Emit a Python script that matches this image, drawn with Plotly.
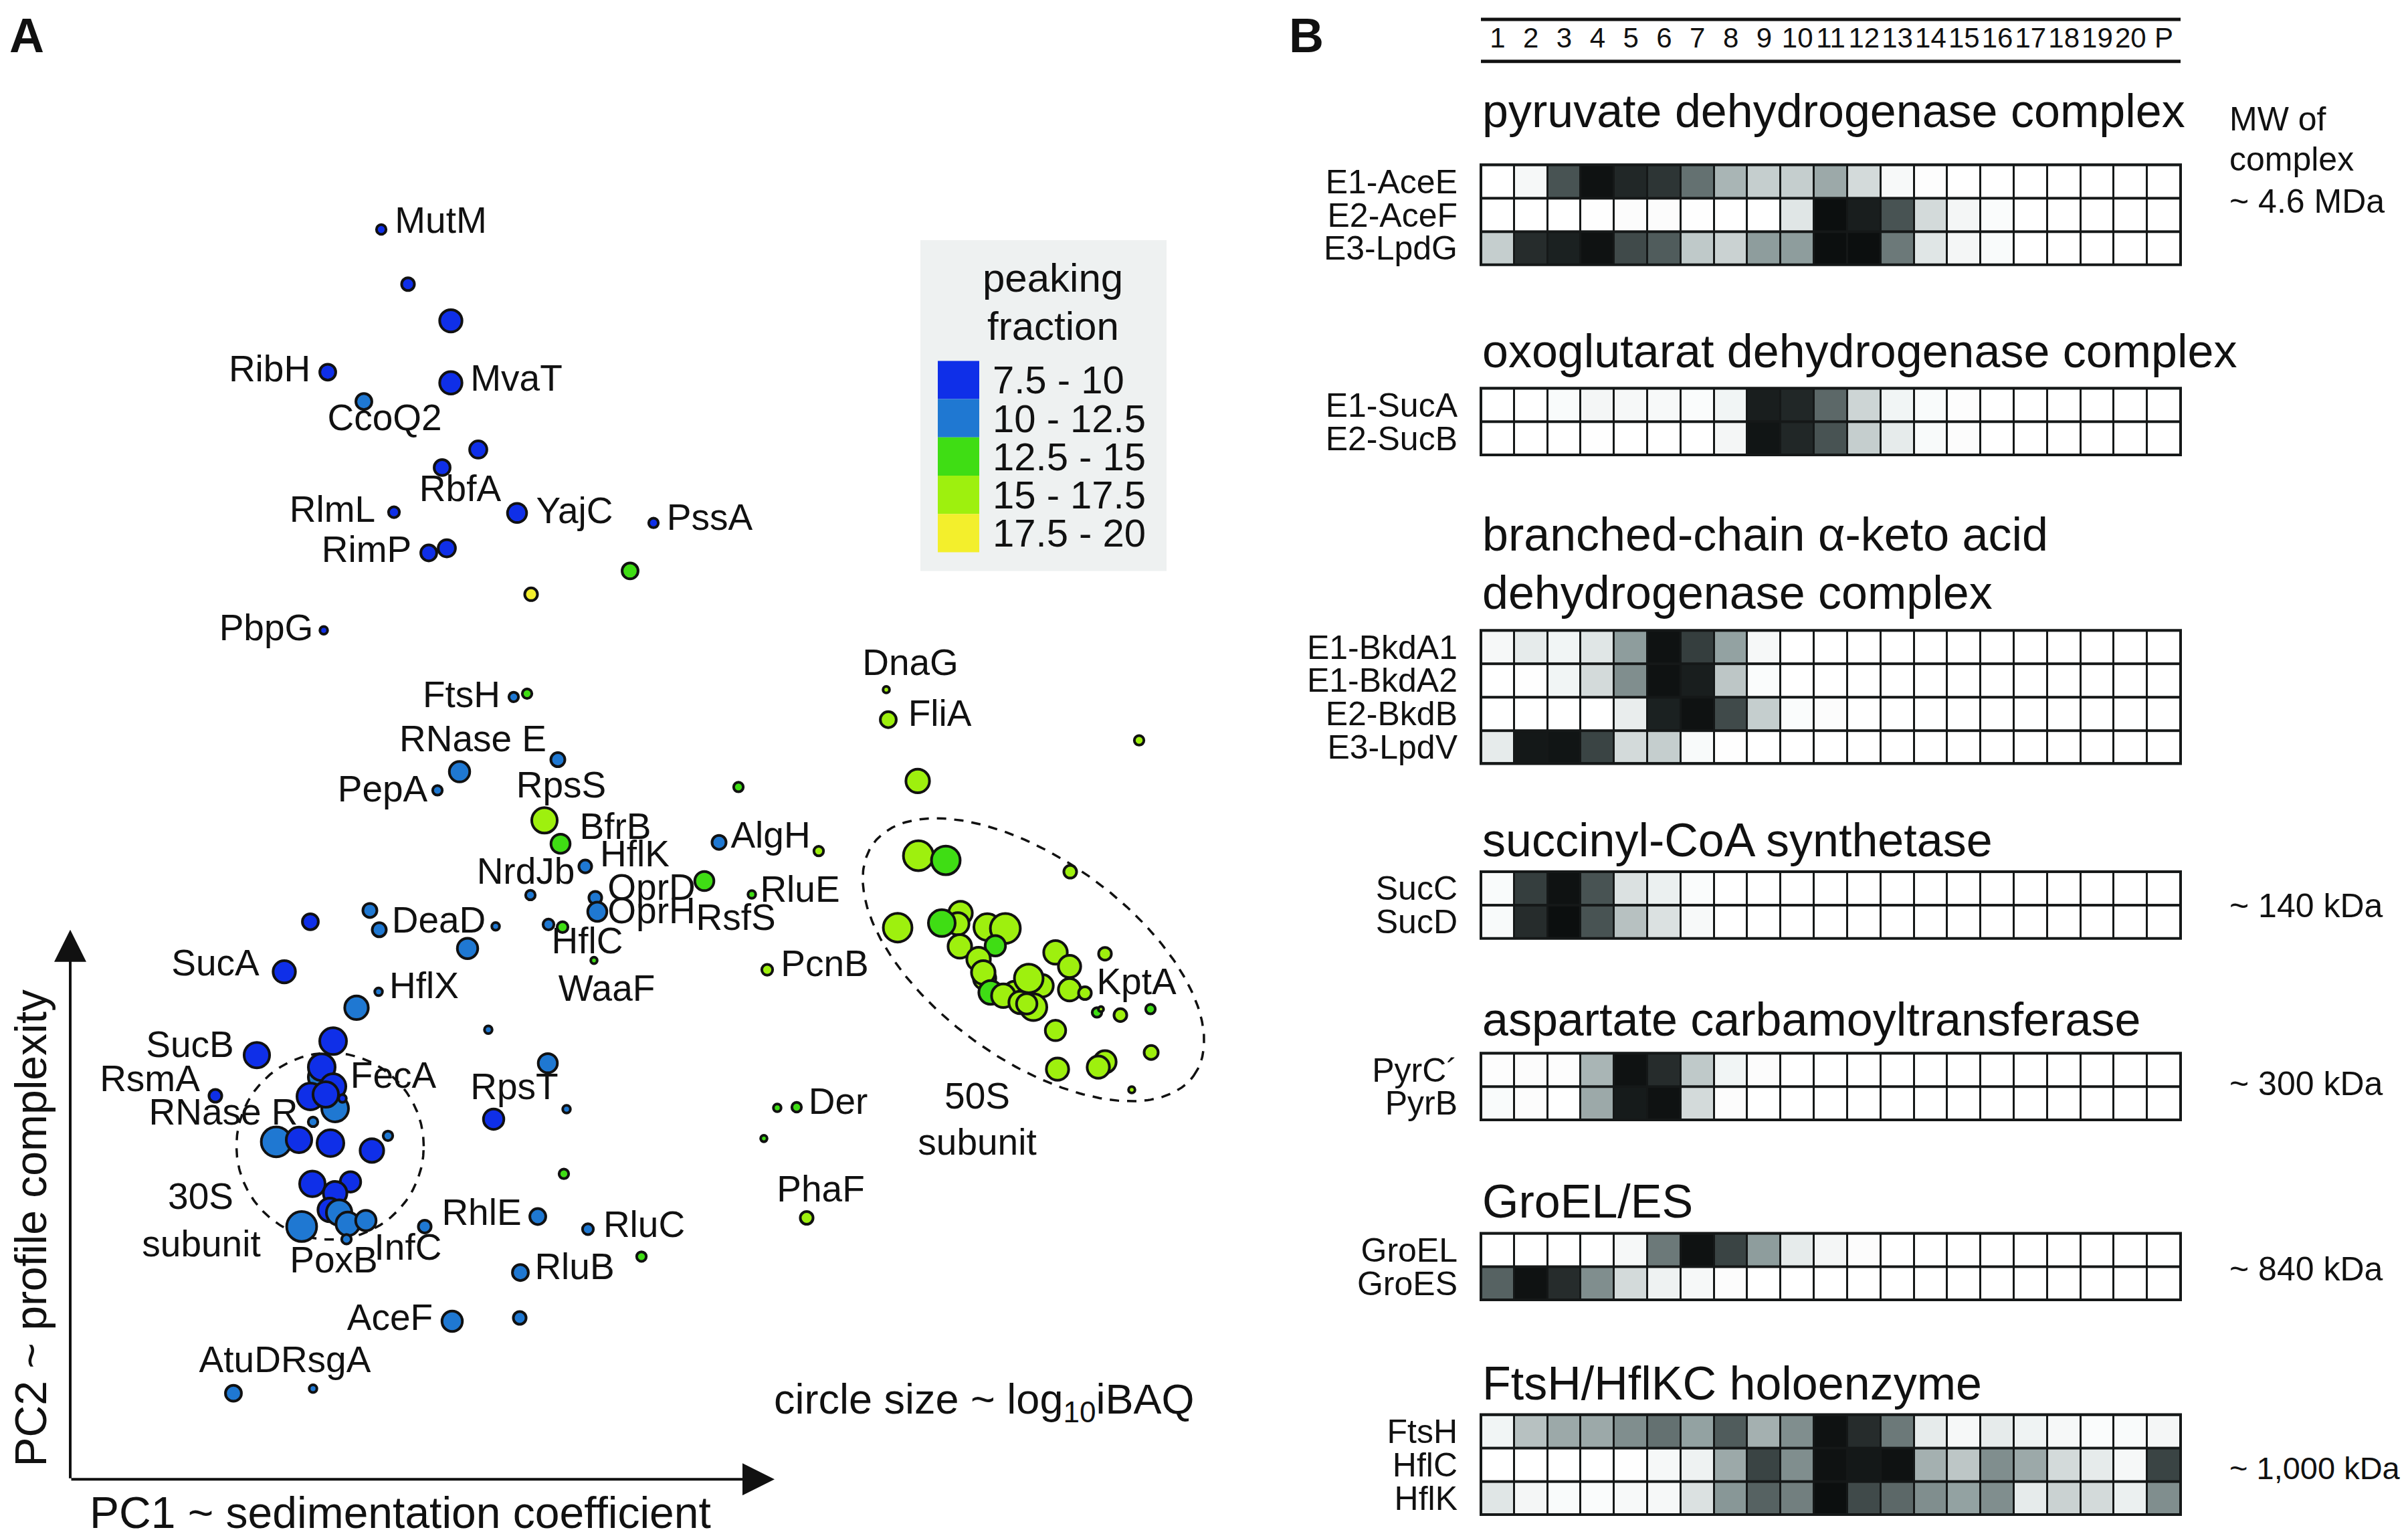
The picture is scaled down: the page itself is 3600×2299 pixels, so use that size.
import numpy as np
import plotly.graph_objects as go

W, H = 3600, 2299
FONT = "Liberation Sans, Arial, Helvetica, sans-serif"
INK = "#111111"

# ---------------- Panel A data ----------------
pc1 = [4.62, 5.02, 5.66, 3.82, 5.66, 4.36, 6.07, 5.53, 4.81, 6.65, 8.69, 5.33, 5.60, 8.34, 6.86, 3.76,
       6.60, 6.80, 7.26, 5.79, 5.46, 7.06, 7.30, 7.67, 6.85, 7.82, 7.85, 9.45, 10.16, 9.67, 11.16, 9.96,
       4.45, 4.59, 6.33, 3.56, 7.12, 7.33, 7.80, 5.91, 4.58, 4.25, 6.22, 3.90, 10.39, 3.17,
       12.17, 12.20, 15.95, 12.64,
       12.65, 13.06, 14.92, 12.34, 13.28, 13.24, 13.00, 13.68, 13.95, 13.80, 13.27, 13.64, 13.55, 13.62,
       13.73, 14.09, 13.92, 14.50, 14.37, 14.17, 14.30, 14.27, 14.70, 14.91, 14.91, 15.14, 15.44, 15.32,
       15.38, 15.67, 16.12, 14.70, 14.73, 15.44, 15.34, 16.13, 15.84,
       10.54, 10.83, 10.34, 10.98,
       2.76, 2.14, 3.72, 3.73, 3.90, 3.93, 3.56, 3.79, 4.04, 3.60, 3.05, 3.39, 3.86, 4.48, 4.72, 3.59,
       4.16, 3.93, 3.85, 3.99, 3.43, 4.12, 4.39, 4.10,
       5.27, 6.96, 7.71, 8.51, 6.70, 6.30, 7.11, 7.39, 7.35, 5.68, 6.69, 2.41, 3.60]
pc2 = [18.67, 17.85, 17.30, 16.53, 16.37, 16.09, 15.37, 15.10, 14.43, 14.42, 14.27, 13.82, 13.89, 13.55, 13.20, 12.66,
       11.66, 11.71, 10.72, 10.54, 10.26, 9.81, 9.46, 9.12, 8.69, 8.65, 8.44, 8.90, 8.70, 9.48, 9.35, 10.31,
       8.46, 8.17, 8.22, 8.29, 8.25, 8.21, 7.71, 7.89, 7.24, 7.00, 6.67, 6.50, 7.57, 7.54,
       11.77, 11.32, 11.01, 10.40,
       9.28, 9.21, 9.04, 8.20, 8.42, 8.26, 8.27, 8.21, 8.19, 7.93, 7.92, 7.44, 7.73, 7.53,
       7.23, 7.23, 7.18, 7.33, 7.01, 7.08, 7.44, 7.06, 7.83, 7.62, 7.27, 7.22, 7.81, 6.93,
       6.98, 6.89, 6.98, 6.66, 6.08, 6.19, 6.11, 6.33, 5.77,
       5.50, 5.51, 5.04, 3.85,
       6.29, 5.68, 5.96, 6.11, 5.82, 5.49, 5.67, 5.70, 5.64, 5.29, 4.99, 5.02, 4.97, 4.86, 5.08, 4.36,
       4.39, 4.22, 3.97, 3.93, 3.72, 3.76, 3.81, 3.53,
       3.72, 3.87, 3.68, 3.27, 3.03, 5.33, 6.17, 5.48, 4.51, 2.30, 2.35, 1.22, 1.29]
log10_ibaq = [6.8, 7.3, 8.8, 7.8, 8.8, 7.8, 8.0, 7.8, 7.0, 8.3, 6.8, 7.8, 8.0, 7.8, 7.3, 6.5,
              6.8, 6.8, 7.5, 8.5, 6.8, 9.3, 8.3, 7.3, 6.8, 7.3, 8.3, 8.3, 6.5, 7.5, 6.8, 6.8,
              7.5, 7.5, 6.5, 7.8, 7.0, 7.0, 6.3, 8.5, 6.5, 9.0, 6.5, 9.5, 7.0, 8.8,
              6.3, 7.8, 6.8, 9.0,
              10.0, 9.8, 7.3, 9.8, 9.0, 8.8, 9.5, 9.5, 10.0, 8.5, 9.0, 8.8, 9.0, 9.0,
              9.0, 8.8, 9.0, 8.8, 9.5, 8.8, 9.8, 8.5, 9.0, 8.8, 8.8, 7.3, 7.3, 6.8,
              6.1, 7.3, 6.8, 8.5, 8.8, 8.8, 8.8, 7.5, 6.3,
              6.5, 6.8, 6.3, 7.3,
              9.3, 7.3, 9.3, 9.5, 9.3, 9.5, 9.5, 9.3, 6.5, 6.8, 10.0, 9.3, 9.5, 9.0, 6.8, 9.3,
              8.5, 9.0, 9.0, 9.3, 10.0, 9.0, 8.5, 6.8,
              7.3, 7.8, 7.0, 6.8, 7.8, 8.5, 8.3, 6.5, 6.8, 8.5, 7.3, 7.8, 6.5]
peaking_fraction = [9.0, 8.8, 9.2, 9.1, 9.4, 10.8, 9.0, 8.7, 8.9, 9.3, 9.0, 9.1, 9.2, 13.8, 18.6, 9.0,
                    11.2, 13.5, 11.0, 11.3, 11.0, 16.2, 14.0, 11.1, 10.9, 11.2, 11.4, 14.2, 14.5, 11.6, 15.8, 14.1,
                    10.7, 10.9, 11.0, 9.3, 11.1, 13.9, 14.3, 11.2, 10.8, 11.3, 11.0, 9.4, 16.0, 9.2,
                    15.9, 16.1, 16.4, 16.0,
                    16.2, 14.4, 16.3, 16.1, 16.0, 15.9, 14.6, 16.2, 16.3, 14.7, 16.0, 16.1, 16.0, 16.2,
                    14.5, 16.1, 16.3, 16.0, 16.2, 16.1, 16.0, 16.2, 16.4, 16.1, 16.0, 16.5, 16.2, 14.8,
                    16.0, 16.3, 14.6, 16.1, 16.2, 16.0, 16.3, 16.1, 16.4,
                    14.2, 14.0, 14.3, 16.0,
                    9.1, 8.8, 10.9, 9.3, 9.2, 11.0, 9.4, 9.1, 9.0, 11.1, 10.8, 9.2, 9.3, 9.1, 11.0, 9.4,
                    9.2, 9.0, 9.3, 10.9, 11.2, 11.0, 10.8, 11.3,
                    11.0, 11.2, 11.1, 14.0, 10.9, 9.1, 11.2, 11.0, 14.1, 11.3, 11.0, 11.1, 10.9]

label_text = ["MutM", "RibH", "MvaT", "CcoQ2", "RbfA", "RlmL", "YajC", "PssA", "RimP", "PbpG",
              "FtsH", "RNase E", "PepA", "RpsS", "BfrB", "HflK", "NrdJb", "OprD", "OprH", "RsfS",
              "RluE", "AlgH", "DeaD", "HflC", "WaaF", "HflX", "PcnB", "DnaG", "FliA", "KptA",
              "50S", "subunit", "Der", "PhaF", "SucA", "SucB", "RsmA", "RNase R", "FecA", "30S",
              "subunit", "PoxB", "InfC", "RhlE", "RluC", "RluB", "RpsT", "AceF", "AtuDRsgA"]
label_pc1 = [5.51, 2.95, 6.64, 4.67, 5.80, 3.89, 7.51, 9.53, 4.40, 2.90,
             5.82, 5.99, 4.64, 7.31, 8.12, 8.41, 6.78, 8.66, 8.66, 9.92,
             10.88, 10.44, 5.48, 7.70, 7.99, 5.26, 11.25, 12.53, 12.97, 15.91,
             13.53, 13.53, 11.45, 11.19, 2.14, 1.76, 1.16, 2.26, 4.80, 1.92,
             1.93, 3.91, 5.02, 6.12, 8.55, 7.51, 6.61, 4.75, 3.18]
label_pc2 = [18.76, 16.53, 16.39, 15.80, 14.74, 14.42, 14.40, 14.30, 13.82, 12.65,
             11.65, 10.98, 10.23, 10.29, 9.67, 9.26, 9.00, 8.76, 8.41, 8.31,
             8.73, 9.54, 8.27, 7.95, 7.24, 7.28, 7.61, 12.13, 11.37, 7.34,
             5.63, 4.94, 5.55, 4.23, 7.62, 6.40, 5.89, 5.39, 5.94, 4.12,
             3.41, 3.17, 3.36, 3.88, 3.70, 3.07, 5.77, 2.31, 1.68]

# cluster outlines: centre PC1, centre PC2, semi-axis a, semi-axis b, angle (deg)
cluster_outlines = [(3.855, 4.925, 1.40, 1.40, 0.0),
                    (14.37, 7.72, 2.96, 1.50, -36.0)]

fraction_bins = ["7.5 - 10", "10 - 12.5", "12.5 - 15", "15 - 17.5", "17.5 - 20"]
bin_edges = [7.5, 10, 12.5, 15, 17.5, 20]
bin_colors = ["#0f2fe8", "#1f78d2", "#3fdd14", "#9ef00e", "#f3ef2c"]

# ---------------- Panel B data ----------------
fractions = ["1", "2", "3", "4", "5", "6", "7", "8", "9", "10", "11", "12", "13", "14",
             "15", "16", "17", "18", "19", "20", "P"]

pdh_names = ["E1-AceE", "E2-AceF", "E3-LpdG"]
pdh = [[0, 0.08, 0.75, 0.97, 0.9, 0.85, 0.65, 0.4, 0.3, 0.3, 0.45, 0.25, 0.07, 0.02, 0, 0, 0, 0, 0, 0, 0],
       [0, 0, 0, 0.01, 0.03, 0.03, 0.01, 0, 0, 0.2, 0.98, 0.93, 0.75, 0.25, 0.1, 0.04, 0, 0, 0, 0, 0],
       [0.3, 0.88, 0.92, 0.97, 0.78, 0.72, 0.32, 0.28, 0.5, 0.5, 0.98, 0.98, 0.62, 0.2, 0.1, 0.05, 0, 0, 0, 0, 0]]
ogdh_names = ["E1-SucA", "E2-SucB"]
ogdh = [[0, 0, 0.05, 0.1, 0.08, 0.07, 0.04, 0.12, 0.93, 0.9, 0.68, 0.27, 0.12, 0.05, 0.02, 0, 0, 0, 0, 0, 0],
        [0, 0, 0, 0.01, 0, 0, 0, 0.1, 0.96, 0.9, 0.75, 0.3, 0.18, 0.06, 0.03, 0, 0, 0, 0, 0, 0]]
bckdh_names = ["E1-BkdA1", "E1-BkdA2", "E2-BkdB", "E3-LpdV"]
bckdh = [[0.08, 0.18, 0.12, 0.2, 0.5, 0.97, 0.82, 0.48, 0.08, 0, 0, 0, 0, 0, 0, 0, 0, 0, 0, 0, 0],
         [0, 0.01, 0.12, 0.25, 0.55, 0.97, 0.93, 0.33, 0.04, 0, 0, 0, 0, 0, 0, 0, 0, 0, 0, 0, 0],
         [0, 0, 0, 0, 0.17, 0.92, 0.97, 0.78, 0.3, 0.04, 0.03, 0, 0, 0, 0, 0, 0, 0, 0, 0, 0],
         [0.18, 0.95, 0.96, 0.8, 0.25, 0.3, 0.06, 0.01, 0, 0, 0, 0, 0, 0, 0, 0, 0, 0, 0, 0, 0]]
scs_names = ["SucC", "SucD"]
scs = [[0.05, 0.82, 0.97, 0.75, 0.22, 0.16, 0.04, 0, 0, 0, 0, 0, 0, 0, 0, 0, 0, 0, 0, 0, 0],
       [0.06, 0.88, 0.98, 0.75, 0.35, 0.22, 0.07, 0, 0, 0, 0, 0, 0, 0, 0, 0, 0, 0, 0, 0, 0]]
atc_names = ["PyrC\u00b4", "PyrB"]
atc = [[0.02, 0.03, 0.02, 0.4, 0.97, 0.88, 0.32, 0.12, 0.03, 0, 0, 0, 0, 0, 0, 0, 0, 0, 0, 0, 0],
       [0.05, 0.03, 0, 0.45, 0.94, 0.97, 0.25, 0.03, 0, 0, 0, 0, 0, 0, 0, 0, 0, 0, 0, 0, 0]]
gro_names = ["GroEL", "GroES"]
gro = [[0, 0, 0, 0, 0.08, 0.62, 0.97, 0.8, 0.5, 0.18, 0.1, 0.03, 0, 0, 0, 0, 0, 0, 0, 0, 0],
       [0.7, 0.97, 0.88, 0.55, 0.25, 0.15, 0.08, 0.03, 0, 0, 0, 0, 0, 0, 0, 0, 0, 0, 0, 0, 0]]
fts_names = ["FtsH", "HflC", "HflK"]
fts = [[0.12, 0.35, 0.45, 0.45, 0.55, 0.65, 0.48, 0.72, 0.42, 0.55, 0.97, 0.88, 0.62, 0.18, 0.08, 0.18, 0.14, 0.08, 0.04, 0.05, 0.1],
       [0, 0, 0, 0, 0.01, 0.08, 0.15, 0.45, 0.8, 0.55, 0.97, 0.95, 0.97, 0.42, 0.33, 0.55, 0.45, 0.25, 0.18, 0.08, 0.8],
       [0.2, 0.1, 0.05, 0.04, 0.07, 0.08, 0.22, 0.52, 0.7, 0.6, 0.98, 0.78, 0.68, 0.55, 0.48, 0.55, 0.18, 0.28, 0.25, 0.16, 0.55]]

complex_titles = [["pyruvate dehydrogenase complex"],
                  ["oxoglutarat dehydrogenase complex"],
                  ["branched-chain \u03b1-keto acid", "dehydrogenase complex"],
                  ["succinyl-CoA synthetase"],
                  ["aspartate carbamoyltransferase"],
                  ["GroEL/ES"],
                  ["FtsH/HflKC holoenzyme"]]
complex_rows = [pdh_names, ogdh_names, bckdh_names, scs_names, atc_names, gro_names, fts_names]
complex_values = [pdh, ogdh, bckdh, scs, atc, gro, fts]
complex_mw = [None, None, None, "~ 140 kDa", "~ 300 kDa", "~ 840 kDa", "~ 1,000 kDa"]

# ---------------- layout geometry (pixels) ----------------
HM_X0, HM_X1 = 2206, 3252
hm_tops = [236, 571, 934, 1296, 1568, 1838, 2110]
row_h = 50
title_baselines = [[180], [540], [815, 902], [1273], [1542], [1815], [2088]]
mw_centres = [None, None, None, 1347, 1614, 1892, 2190]
mw_sizes = [None, None, None, 50, 50, 50, 47]


def px(x):
    return x / W


def py(y):
    return 1 - y / H


def color_for(v):
    for i in range(len(bin_colors)):
        if v < bin_edges[i + 1]:
            return bin_colors[i]
    return bin_colors[-1]


def note(x, y, text, size, xanchor="center", yanchor="middle", **kw):
    return dict(x=px(x), y=py(y), xref="paper", yref="paper", text=text, showarrow=False,
                xanchor=xanchor, yanchor=yanchor, font=dict(family=FONT, size=size, color=INK), **kw)


fig = go.Figure()
shapes = []
annotations = []

# ---- Panel A ----
for (cx, cy, a, b, ang) in cluster_outlines:
    t = np.linspace(0, 2 * np.pi, 300)
    th = np.radians(ang)
    ex = cx + a * np.cos(t) * np.cos(th) - b * np.sin(t) * np.sin(th)
    ey = cy + a * np.cos(t) * np.sin(th) + b * np.sin(t) * np.cos(th)
    fig.add_trace(go.Scatter(x=ex, y=ey, mode="lines", xaxis="x", yaxis="y",
                             line=dict(color=INK, width=3.5, dash="14px,12px"),
                             hoverinfo="skip", showlegend=False))

marker_sizes = [(v - 5.5) * 9.5 + 2 for v in log10_ibaq]
marker_colors = [color_for(v) for v in peaking_fraction]
fig.add_trace(go.Scatter(x=pc1, y=pc2, mode="markers", xaxis="x", yaxis="y",
                         marker=dict(size=marker_sizes, color=marker_colors, opacity=1,
                                     line=dict(color=INK, width=4)),
                         hoverinfo="skip", showlegend=False, cliponaxis=False))
fig.add_trace(go.Scatter(x=label_pc1, y=label_pc2, text=label_text, mode="text",
                         xaxis="x", yaxis="y", textposition="middle center",
                         textfont=dict(family=FONT, size=55, color=INK),
                         hoverinfo="skip", showlegend=False, cliponaxis=False))

# axis arrows
ox, oy = -0.03, -0.07
for tip in [(10.5, oy), (ox, 8.17)]:
    annotations.append(dict(x=tip[0], y=tip[1], ax=ox, ay=oy, xref="x", yref="y", axref="x", ayref="y",
                            text="", showarrow=True, arrowhead=2, arrowsize=2.4, arrowwidth=4,
                            arrowcolor=INK))
annotations.append(note(590, 2257, "PC1 ~ sedimentation coefficient", 66))
annotations.append(note(38, 1831, "PC2 ~ profile complexity", 66, textangle=-90))
annotations.append(note(1463, 2091, "circle size ~ log<sub>10</sub>iBAQ", 63))

# legend box
shapes.append(dict(type="rect", xref="paper", yref="paper", x0=px(1368), x1=px(1736),
                   y0=py(845), y1=py(349), fillcolor="#eef1f1", line=dict(width=0)))
annotations.append(note(1566, 406, "peaking", 60))
annotations.append(note(1566, 478, "fraction", 60))
sw_top, sw_h = 530, 57.4
for i, (lab, col) in enumerate(zip(fraction_bins, bin_colors)):
    shapes.append(dict(type="rect", xref="paper", yref="paper", x0=px(1394), x1=px(1456),
                       y0=py(sw_top + sw_h * (i + 1)), y1=py(sw_top + sw_h * i),
                       fillcolor=col, line=dict(width=0)))
    annotations.append(note(1474, sw_top + sw_h * (i + 0.5), lab, 58, xanchor="left"))

# panel letters
annotations.append(note(32, 42, "<b>A</b>", 72))
annotations.append(note(1945, 42, "<b>B</b>", 72))

layout_axes = {}
layout_axes["xaxis"] = dict(domain=[0, 1900 / W], range=[-1, 18], visible=False, fixedrange=True)
layout_axes["yaxis"] = dict(domain=[0, 1], range=[(2200 - H) / 100, 22], visible=False, fixedrange=True)

# ---- Panel B ----
gray_scale = [[0, "#ffffff"], [0.15, "#eef2f2"], [0.5, "#8e9d9d"], [0.8, "#3a4444"], [1, "#070909"]]
for k, (titles, rows, vals, mw) in enumerate(zip(complex_titles, complex_rows, complex_values, complex_mw)):
    ax = k + 2
    xa, ya = f"x{ax}", f"y{ax}"
    n = len(rows)
    top = hm_tops[k]
    bot = top + row_h * n
    fig.add_trace(go.Heatmap(z=vals, x=list(range(len(fractions))), y=list(range(n)),
                             colorscale=gray_scale, zmin=0, zmax=1, showscale=False,
                             xgap=3, ygap=4, xaxis=xa, yaxis=ya, hoverinfo="skip"))
    layout_axes[f"xaxis{ax}"] = dict(domain=[px(HM_X0), px(HM_X1)], range=[-0.5, len(fractions) - 0.5],
                                     showticklabels=False, showgrid=False, zeroline=False,
                                     ticks="", anchor=ya, fixedrange=True)
    layout_axes[f"yaxis{ax}"] = dict(domain=[py(bot), py(top)], range=[n - 0.5, -0.5],
                                     tickvals=list(range(n)), ticktext=rows, ticks="outside",
                                     ticklen=24, tickcolor="rgba(0,0,0,0)", showgrid=False,
                                     zeroline=False, anchor=xa, fixedrange=True,
                                     tickfont=dict(family=FONT, size=50, color=INK))
    shapes.append(dict(type="rect", xref=f"{xa} domain", yref=f"{ya} domain", x0=0, x1=1, y0=0, y1=1,
                       fillcolor="#151818", line=dict(width=0), layer="below"))
    shapes.append(dict(type="rect", xref=f"{xa} domain", yref=f"{ya} domain", x0=0, x1=1, y0=0, y1=1,
                       fillcolor="rgba(0,0,0,0)", line=dict(color="#151818", width=4)))
    for line_text, base in zip(titles, title_baselines[k]):
        annotations.append(note(HM_X0, base - 0.35 * 70, line_text, 70, xanchor="left"))
    if mw is not None:
        annotations.append(note(3323, mw_centres[k], mw, mw_sizes[k], xanchor="left"))

# MW header for first complex
for txt, yc in zip(["MW of", "complex", "~ 4.6 MDa"], [168, 228, 291]):
    annotations.append(note(3323, yc, txt, 50, xanchor="left"))

# fraction header
hx = 9
fig.add_trace(go.Scatter(x=list(range(len(fractions))), y=[0.5] * len(fractions), text=fractions,
                         mode="text", textposition="middle center", xaxis=f"x{hx}", yaxis=f"y{hx}",
                         textfont=dict(family=FONT, size=42, color=INK), hoverinfo="skip",
                         showlegend=False, cliponaxis=False))
layout_axes[f"xaxis{hx}"] = dict(domain=[px(HM_X0), px(HM_X1)], range=[-0.5, len(fractions) - 0.5],
                                 visible=False, anchor=f"y{hx}", fixedrange=True)
layout_axes[f"yaxis{hx}"] = dict(domain=[py(81), py(18)], range=[0, 1], visible=False,
                                 anchor=f"x{hx}", fixedrange=True)
for yl in (18, 81):
    shapes.append(dict(type="line", xref="paper", yref="paper", x0=px(HM_X0), x1=px(HM_X1),
                       y0=py(yl), y1=py(yl), line=dict(color=INK, width=5)))

fig.update_layout(width=W, height=H, margin=dict(l=0, r=0, t=0, b=0),
                  paper_bgcolor="white", plot_bgcolor="white", showlegend=False,
                  hovermode=False, shapes=shapes, annotations=annotations,
                  font=dict(family=FONT, color=INK), **layout_axes)

fig.write_html("out.html")
